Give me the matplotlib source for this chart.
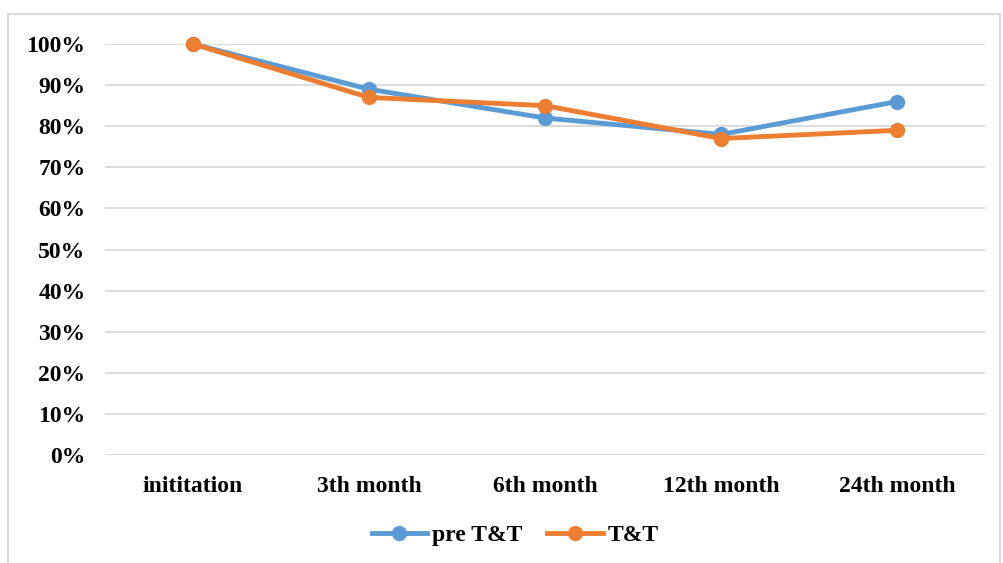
import matplotlib
matplotlib.use('Agg')
import matplotlib.pyplot as plt
from matplotlib.patches import Rectangle
from matplotlib.ticker import PercentFormatter

categories = ['inititation', '3th month', '6th month', '12th month', '24th month']
pre_tt = [1.00, 0.89, 0.82, 0.78, 0.86]
tt = [1.00, 0.87, 0.85, 0.77, 0.79]
series_names = ['pre T&T', 'T&T']

plt.rcParams['font.family'] = ['Liberation Serif', 'DejaVu Serif']
plt.rcParams['font.weight'] = 'bold'

W, H = 1004, 563
fig = plt.figure(figsize=(W / 100, H / 100), dpi=100)
ax = fig.add_axes([105 / W, (H - 455) / H, 880 / W, 411 / H])

# light frame round the chart area
fig.patches.append(Rectangle((8 / W, -0.05), 992 / W, (H - 14) / H + 0.05,
                             transform=fig.transFigure, fill=False,
                             edgecolor='#d9d9d9', linewidth=1.5))

x = range(len(categories))
ax.plot(x, pre_tt, color='#5B9BD5', lw=3.5, marker='o', ms=10, clip_on=False,
        label=series_names[0], zorder=3)
ax.plot(x, tt, color='#ED7D31', lw=3.5, marker='o', ms=10, clip_on=False,
        label=series_names[1], zorder=4)

ax.set_xlim(-0.5, len(categories) - 0.5)
ax.set_ylim(0, 1)
ax.set_yticks([i / 10 for i in range(11)])
ax.yaxis.set_major_formatter(PercentFormatter(1.0, decimals=0))
ax.set_xticks(list(x))
ax.set_xticklabels(categories)
ax.grid(axis='y', color='#d9d9d9', lw=1.3)
ax.set_axisbelow(True)
for s in ax.spines.values():
    s.set_visible(False)
ax.tick_params(axis='both', length=0, labelsize=17)
ax.tick_params(axis='y', pad=14)
ax.tick_params(axis='x', pad=15)

fig.legend(loc='center', bbox_to_anchor=(515 / W, 1 - 535 / H), ncol=2,
           frameon=False, fontsize=17, handlelength=2.35, columnspacing=1.05,
           handletextpad=0.2)

fig.savefig('out.png', dpi=100)
